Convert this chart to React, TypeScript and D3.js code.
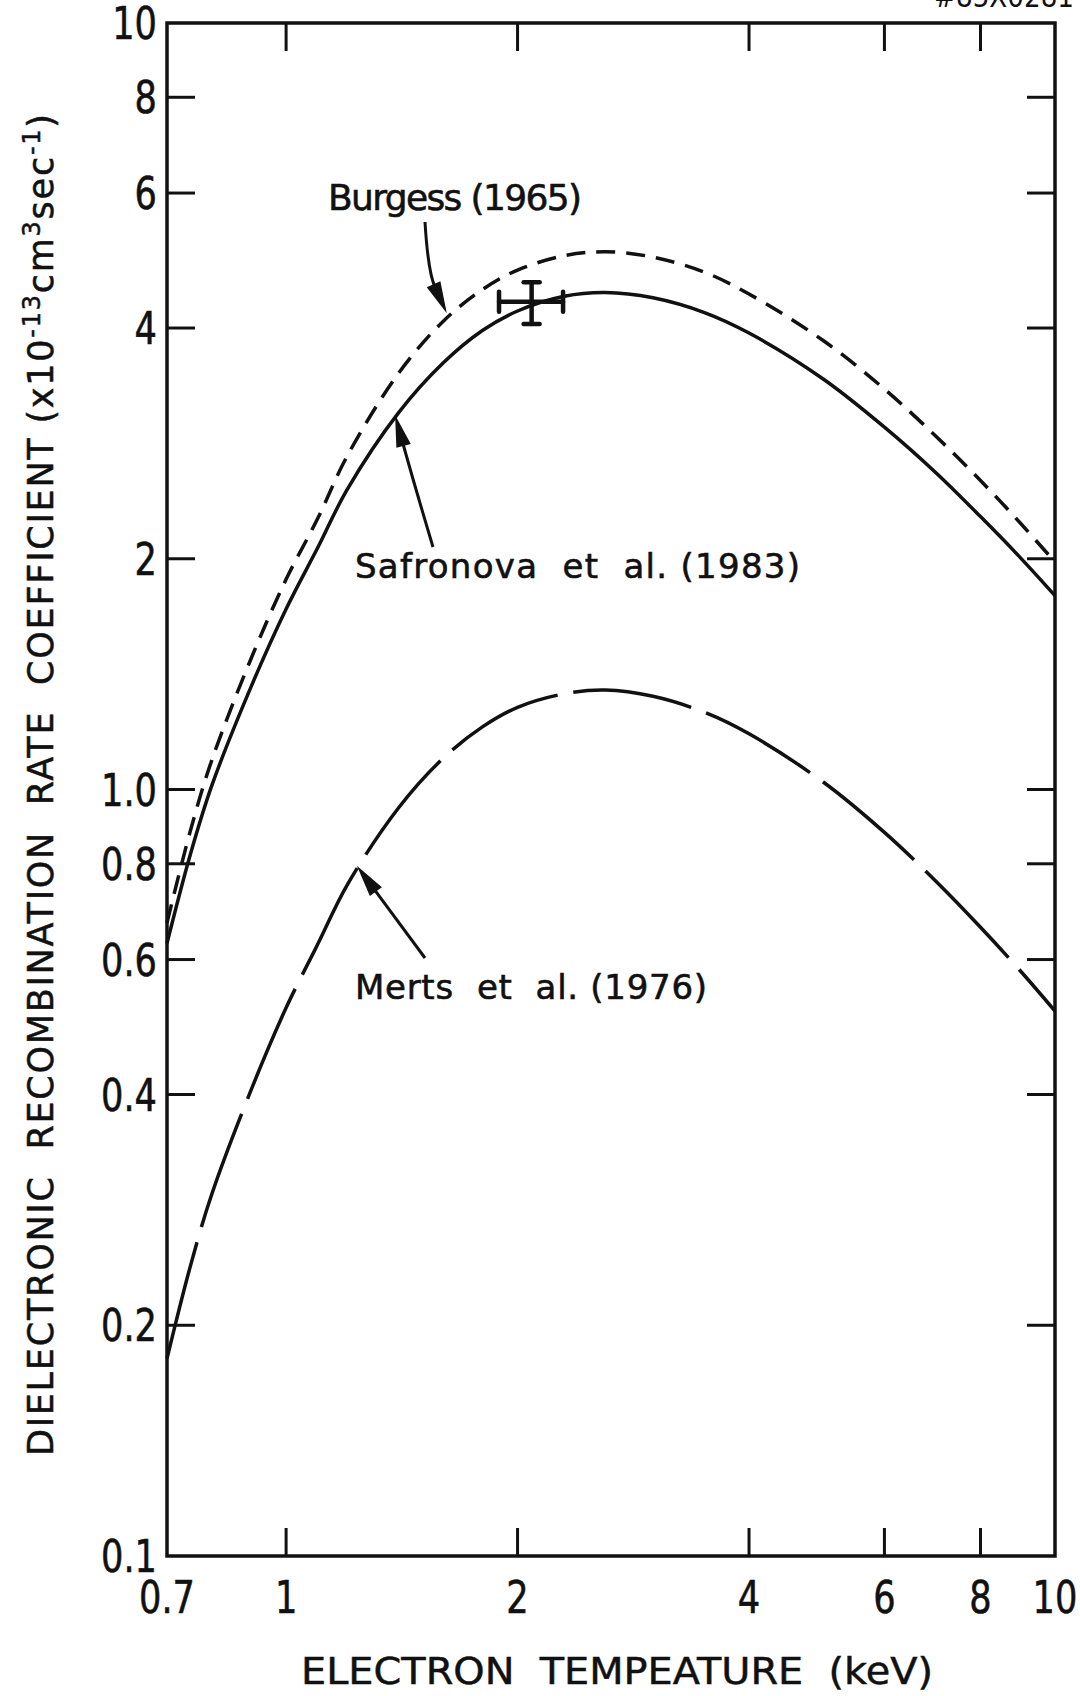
import React from 'react';
import * as d3 from 'd3';

// ---- data ----
const temperatures = [0.7, 0.75, 0.8, 0.9, 1.0, 1.1, 1.2, 1.4, 1.6, 1.8, 2.0, 2.3, 2.6, 3.0, 3.5, 4, 5, 6, 7, 8, 9, 10];
const safronova = [0.63, 0.82, 1.01, 1.36, 1.72, 2.07, 2.46, 3.1, 3.6, 3.97, 4.21, 4.4, 4.45, 4.38, 4.19, 3.94, 3.43, 2.97, 2.59, 2.27, 2.01, 1.79];
const burgess = [0.67, 0.88, 1.09, 1.48, 1.88, 2.26, 2.72, 3.49, 4.08, 4.49, 4.76, 4.97, 5.03, 4.95, 4.73, 4.43, 3.85, 3.33, 2.89, 2.53, 2.23, 1.98];
const merts = [0.181, 0.238, 0.296, 0.405, 0.519, 0.629, 0.75, 0.946, 1.098, 1.207, 1.28, 1.333, 1.348, 1.323, 1.261, 1.182, 1.022, 0.879, 0.759, 0.661, 0.581, 0.514];

const measurementT = [2.086];
const measurementTLow = [1.892];
const measurementTHigh = [2.292];
const measurementV = [4.33];
const measurementVLow = [4.05];
const measurementVHigh = [4.59];

const xTickValues = [0.7, 1, 2, 4, 6, 8, 10];
const xTickLabels = ['0.7', '1', '2', '4', '6', '8', '10'];
const yTickValues = [0.1, 0.2, 0.4, 0.6, 0.8, 1, 2, 4, 6, 8, 10];
const yTickLabels = ['0.1', '0.2', '0.4', '0.6', '0.8', '1.0', '2', '4', '6', '8', '10'];

const seriesNames = ['Burgess (1965)', 'Safronova  et  al. (1983)', 'Merts  et  al. (1976)'];
// arrow tips in data coordinates
const arrowTipT = [1.618, 1.386, 1.236];
const arrowTipV = [4.18, 3.08, 0.795];

const FONT = "'DejaVu Sans', sans-serif";
const INK = '#111';

function Arrow({ sx, sy, cx, cy, tx, ty }: { sx: number; sy: number; cx: number; cy: number; tx: number; ty: number }) {
  const headLen = 32;
  const halfW = 7.5;
  const dx = tx - cx;
  const dy = ty - cy;
  const len = Math.hypot(dx, dy);
  const ux = dx / len;
  const uy = dy / len;
  const bx = tx - ux * headLen;
  const by = ty - uy * headLen;
  const px = -uy;
  const py = ux;
  return (
    <g>
      <path d={`M${sx},${sy} Q${cx},${cy} ${bx + ux * 4},${by + uy * 4}`} fill="none" stroke={INK} strokeWidth={3} />
      <path d={`M${tx},${ty} L${bx + px * halfW},${by + py * halfW} L${bx - px * halfW},${by - py * halfW} Z`} fill={INK} />
    </g>
  );
}

function NarrowText({ x, y, anchor, size, children }: { x: number; y: number; anchor: string; size: number; children: React.ReactNode }) {
  return (
    <text transform={`translate(${x},${y}) scale(0.8,1)`} textAnchor={anchor} fontFamily={FONT} fontSize={size} fill={INK} stroke={INK} strokeWidth={0.6}>
      {children}
    </text>
  );
}

export default function App() {
  const W = 1080;
  const H = 1696;
  const left = 167, right = 1055, top = 23, bottom = 1556;
  const x = d3.scaleLog().domain([0.7, 10]).range([left, right]);
  const y = d3.scaleLog().domain([0.1, 10]).range([bottom, top]);
  const line = d3
    .line<number>()
    .x((_, i) => x(temperatures[i]))
    .y((d) => y(d))
    .curve(d3.curveCatmullRom.alpha(0.5));

  const tickLen = 28;
  const innerX = xTickValues.filter((v) => v > 0.7 && v < 10);
  const innerY = yTickValues.filter((v) => v > 0.1 && v < 10);

  const tips = arrowTipT.map((t, i) => [x(t), y(arrowTipV[i])]);

  return (
    <svg width={W} height={H} viewBox={`0 0 ${W} ${H}`} style={{ position: 'absolute', left: 0, top: 0, background: '#fff' }}>
      <rect x={0} y={0} width={W} height={H} fill="#fff" />
      {/* catalogue number, clipped at the page top as in the scan */}
      <text x={1074} y={7} textAnchor="end" fontFamily={FONT} fontSize={30} fill={INK} textLength={140} lengthAdjust="spacingAndGlyphs">#85X0281</text>

      {/* frame */}
      <rect x={left} y={top} width={right - left} height={bottom - top} fill="none" stroke={INK} strokeWidth={3.5} />
      {innerX.map((v) => (
        <g key={'xt' + v}>
          <line x1={x(v)} x2={x(v)} y1={bottom} y2={bottom - tickLen} stroke={INK} strokeWidth={3} />
          <line x1={x(v)} x2={x(v)} y1={top} y2={top + tickLen} stroke={INK} strokeWidth={3} />
        </g>
      ))}
      {innerY.map((v) => (
        <g key={'yt' + v}>
          <line x1={left} x2={left + tickLen} y1={y(v)} y2={y(v)} stroke={INK} strokeWidth={3} />
          <line x1={right} x2={right - tickLen} y1={y(v)} y2={y(v)} stroke={INK} strokeWidth={3} />
        </g>
      ))}

      {/* tick labels */}
      {xTickValues.map((v, i) => (
        <NarrowText key={'xl' + v} x={x(v)} y={1613} anchor="middle" size={44}>{xTickLabels[i]}</NarrowText>
      ))}
      {yTickValues.map((v, i) => (
        <NarrowText key={'yl' + v} x={157} y={y(v) + 16} anchor="end" size={44}>{yTickLabels[i]}</NarrowText>
      ))}

      {/* axis titles */}
      <text x={301} y={1684} fontFamily={FONT} fontSize={38} fill={INK} stroke={INK} strokeWidth={0.5} textLength={632} lengthAdjust="spacingAndGlyphs" style={{ whiteSpace: 'pre' }}>ELECTRON  TEMPEATURE  (keV)</text>
      <text transform="translate(53,1456) rotate(-90)" x={0} y={0} fontFamily={FONT} fontSize={35} fill={INK} stroke={INK} strokeWidth={0.5} textLength={1342} lengthAdjust="spacing" style={{ whiteSpace: 'pre' }}>
        DIELECTRONIC  RECOMBINATION  RATE  COEFFICIENT (x10
        <tspan dy={-13} fontSize={24}>-13</tspan>
        <tspan dy={13}>cm</tspan>
        <tspan dy={-13} fontSize={24}>3</tspan>
        <tspan dy={13}>sec</tspan>
        <tspan dy={-13} fontSize={24}>-1</tspan>
        <tspan dy={13}>)</tspan>
      </text>

      {/* curves */}
      <path d={line(burgess) || ''} fill="none" stroke={INK} strokeWidth={3.5} strokeDasharray="19 11" />
      <path d={line(safronova) || ''} fill="none" stroke={INK} strokeWidth={3.5} />
      <path d={line(merts) || ''} fill="none" stroke={INK} strokeWidth={3.5} strokeDasharray="120 16" />

      {/* measurement with error bars */}
      {measurementT.map((t, i) => {
        const cx = x(t), cy = y(measurementV[i]);
        const x0 = x(measurementTLow[i]), x1 = x(measurementTHigh[i]);
        const y0 = y(measurementVHigh[i]), y1 = y(measurementVLow[i]);
        return (
          <g key={'m' + i} stroke={INK} strokeWidth={4.5} strokeLinecap="round">
            <line x1={x0} x2={x1} y1={cy} y2={cy} />
            <line x1={cx} x2={cx} y1={y0} y2={y1} />
            <line x1={x0} x2={x0} y1={cy - 10} y2={cy + 10} />
            <line x1={x1} x2={x1} y1={cy - 10} y2={cy + 10} />
            <line x1={cx - 8} x2={cx + 8} y1={y0} y2={y0} />
            <line x1={cx - 8} x2={cx + 8} y1={y1} y2={y1} />
          </g>
        );
      })}

      {/* annotations */}
      <text x={328} y={210} fontFamily={FONT} fontSize={36} fill={INK} stroke={INK} strokeWidth={0.6} textLength={254} lengthAdjust="spacing" style={{ whiteSpace: 'pre' }}>{seriesNames[0]}</text>
      <Arrow sx={425} sy={222} cx={428} cy={272} tx={tips[0][0]} ty={tips[0][1]} />
      <text x={355} y={578} fontFamily={FONT} fontSize={34} fill={INK} stroke={INK} strokeWidth={0.6} textLength={445} lengthAdjust="spacing" style={{ whiteSpace: 'pre' }}>{seriesNames[1]}</text>
      <Arrow sx={433} sy={547} cx={413} cy={480} tx={tips[1][0]} ty={tips[1][1]} />
      <text x={355} y={999} fontFamily={FONT} fontSize={34} fill={INK} stroke={INK} strokeWidth={0.6} textLength={352} lengthAdjust="spacing" style={{ whiteSpace: 'pre' }}>{seriesNames[2]}</text>
      <Arrow sx={425} sy={958} cx={391} cy={912} tx={tips[2][0]} ty={tips[2][1]} />
    </svg>
  );
}
